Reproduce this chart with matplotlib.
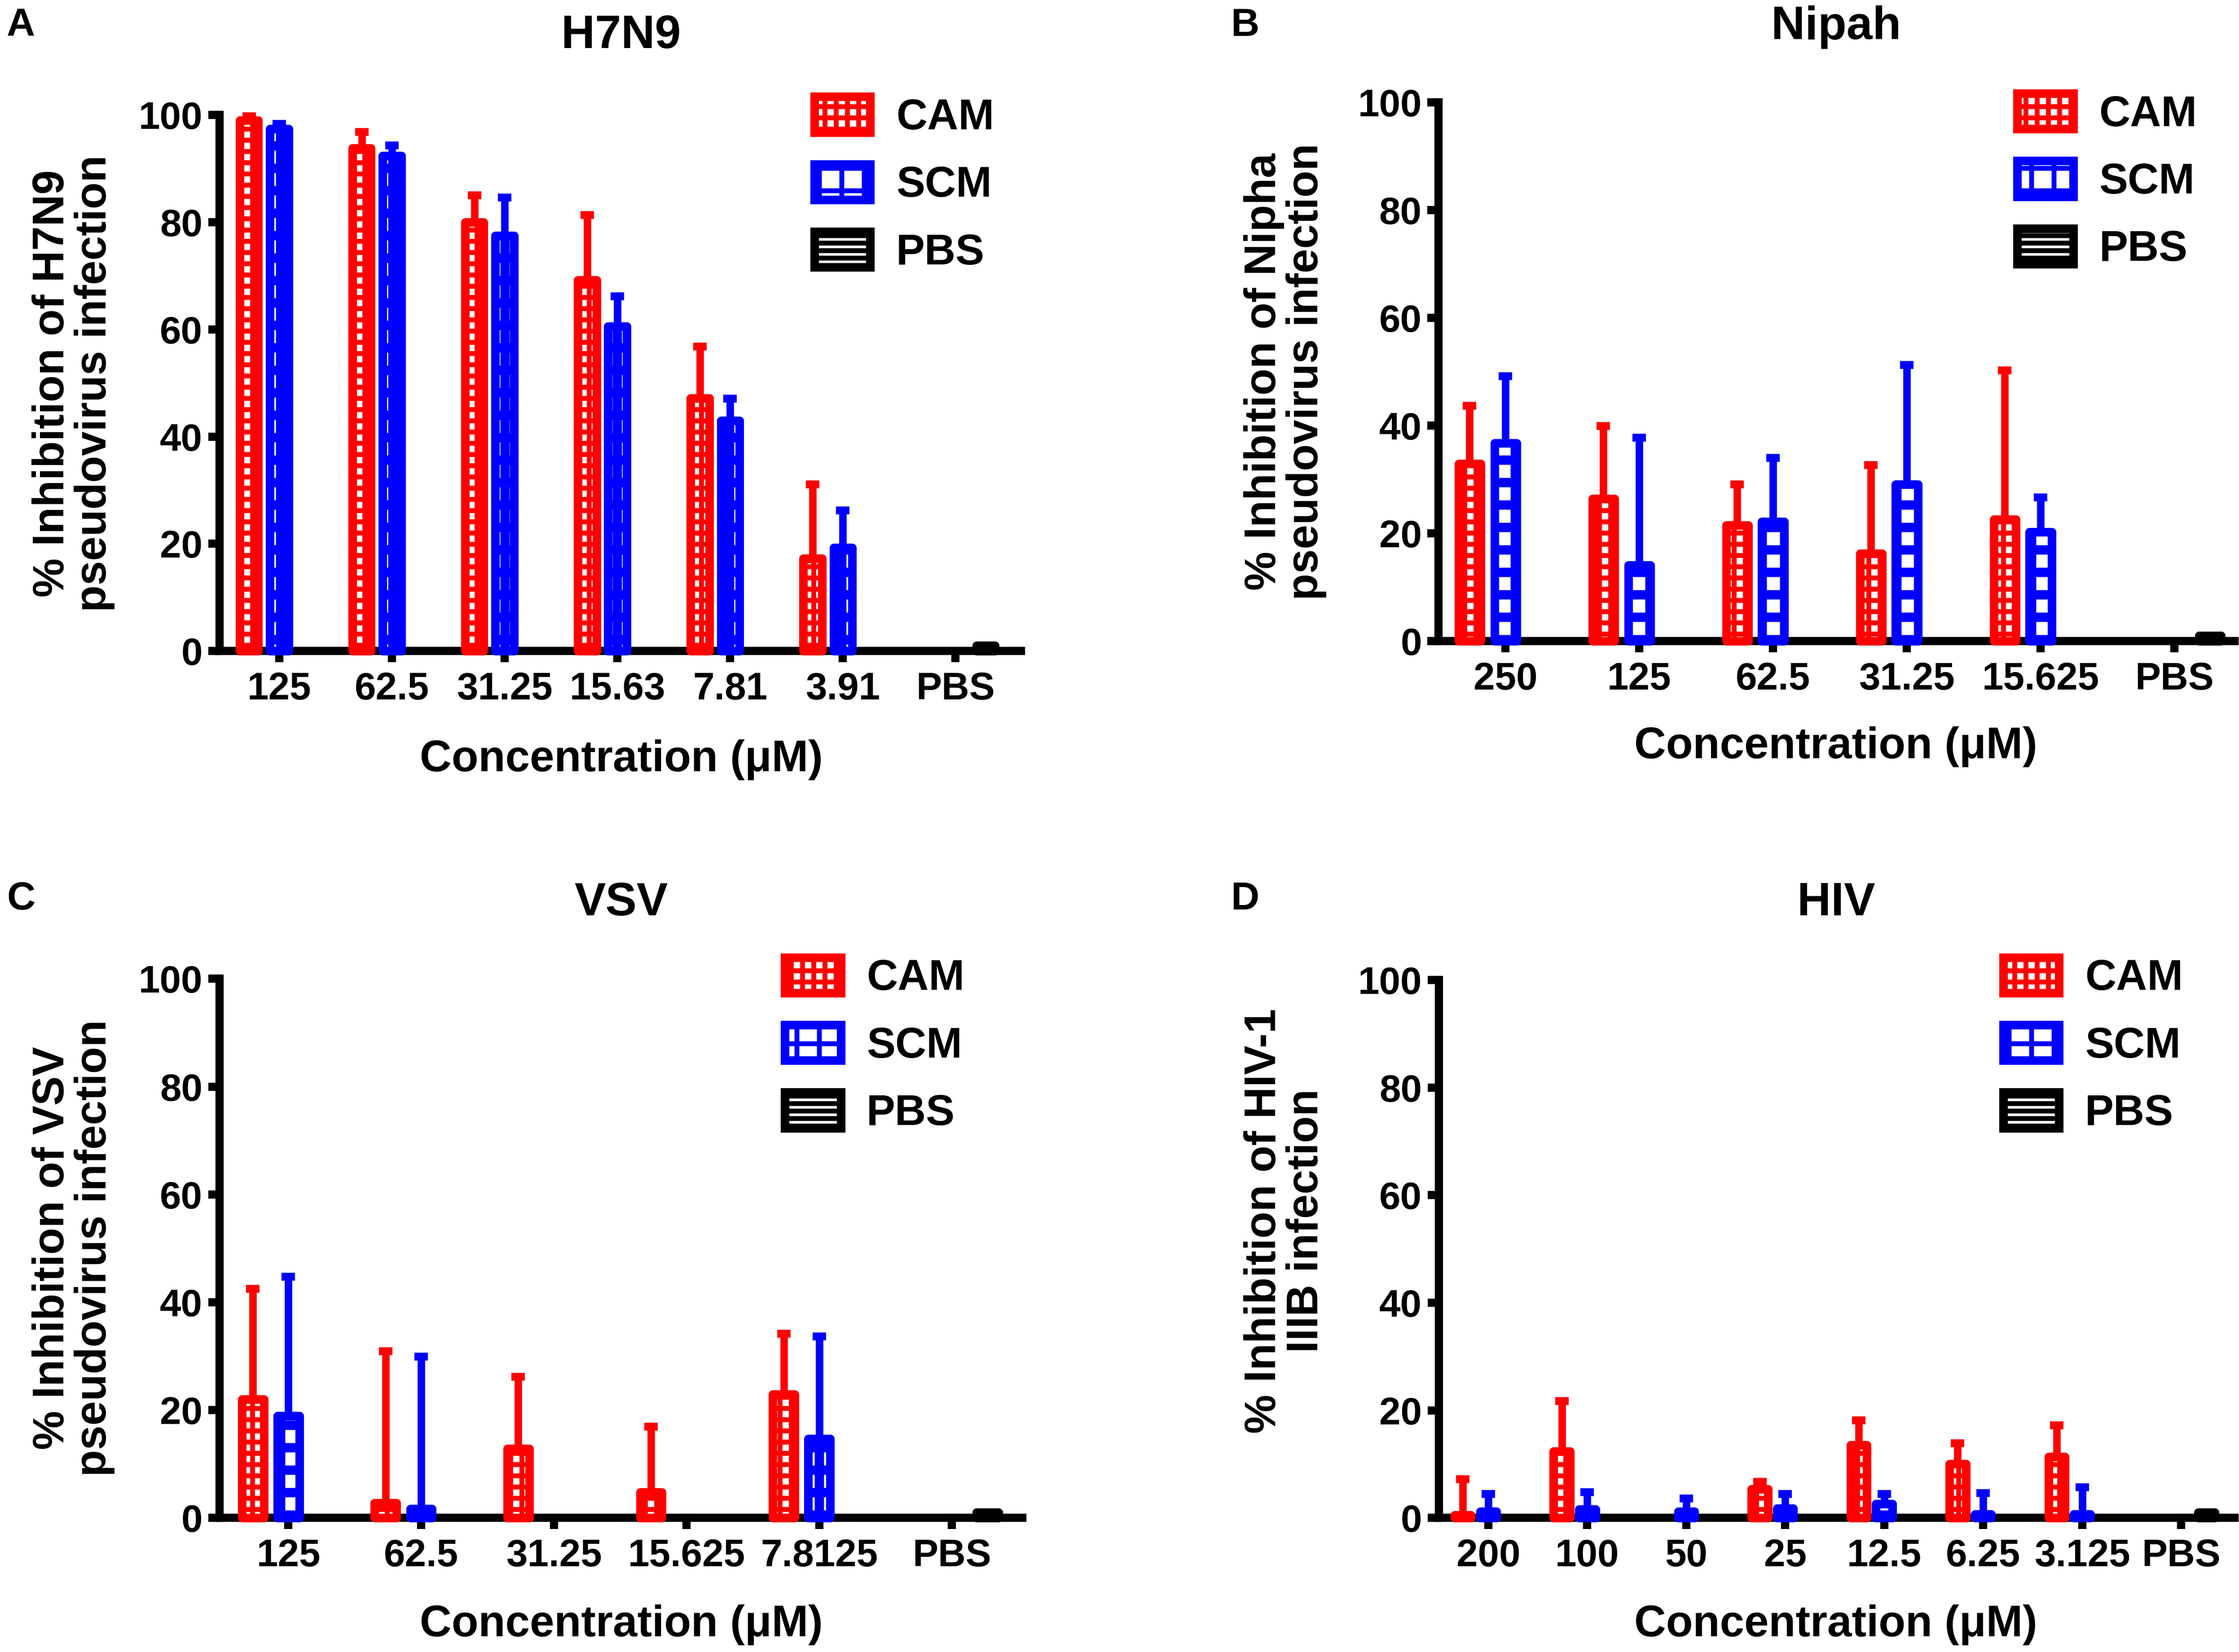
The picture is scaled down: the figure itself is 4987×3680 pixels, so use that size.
import numpy as np
import matplotlib
matplotlib.use('Agg')
import matplotlib.pyplot as plt

plt.rcParams['font.family'] = ['Liberation Sans', 'DejaVu Sans']
plt.rcParams['font.weight'] = 'bold'
plt.rcParams['hatch.linewidth'] = 2.6

series = ['CAM', 'SCM', 'PBS']
xlabel_text = 'Concentration (\u03bcM)'

# ---------------- Panel A: H7N9 ----------------
a_title = 'H7N9'
a_ylabel = '% Inhibition of H7N9\npseudovirus infection'
a_cats = ['125', '62.5', '31.25', '15.63', '7.81', '3.91', 'PBS']
a_cam = [99.0, 93.8, 80.0, 69.2, 47.2, 17.3, 0]
a_cam_err = [0.8, 3.0, 5.0, 12.1, 9.6, 13.8, 0]
a_scm = [97.4, 92.4, 77.5, 60.6, 43.0, 19.3, 0]
a_scm_err = [0.9, 1.9, 7.1, 5.6, 4.1, 6.9, 0]
a_pbs = [0, 0, 0, 0, 0, 0, 1.0]

# ---------------- Panel B: Nipah ----------------
b_title = 'Nipah'
b_ylabel = '% Inhibition of Nipha\npseudovirus infection'
b_cats = ['250', '125', '62.5', '31.25', '15.625', 'PBS']
b_cam = [32.9, 26.4, 21.5, 16.3, 22.6, 0]
b_cam_err = [10.8, 13.5, 7.6, 16.4, 27.7, 0]
b_scm = [36.8, 14.1, 22.2, 29.1, 20.3, 0]
b_scm_err = [12.4, 23.7, 11.8, 22.2, 6.4, 0]
b_pbs = [0, 0, 0, 0, 0, 1.0]

# ---------------- Panel C: VSV ----------------
c_title = 'VSV'
c_ylabel = '% Inhibition of VSV\npseudovirus infection'
c_cats = ['125', '62.5', '31.25', '15.625', '7.8125', 'PBS']
c_cam = [22.0, 2.8, 12.8, 4.8, 22.9, 0]
c_cam_err = [20.5, 28.1, 13.4, 12.1, 11.3, 0]
c_scm = [18.9, 1.7, 0, 0, 14.7, 0]
c_scm_err = [25.8, 28.2, 0, 0, 19.0, 0]
c_pbs = [0, 0, 0, 0, 0, 1.0]

# ---------------- Panel D: HIV ----------------
d_title = 'HIV'
d_ylabel = '% Inhibition of HIV-1\nIIIB infection'
d_cats = ['200', '100', '50', '25', '12.5', '6.25', '3.125', 'PBS']
d_cam = [0.5, 12.4, 0, 5.4, 13.5, 10.0, 11.4, 0]
d_cam_err = [6.7, 9.3, 0, 1.3, 4.6, 3.9, 5.8, 0]
d_scm = [1.2, 1.6, 1.2, 1.8, 2.6, 0.7, 0.7, 0]
d_scm_err = [3.2, 3.2, 2.4, 2.6, 1.8, 3.9, 5.0, 0]
d_pbs = [0, 0, 0, 0, 0, 0, 0, 1.0]

yticks = [0, 20, 40, 60, 80, 100]

RED = '#ff0000'
BLUE = '#0000ff'
BLACK = '#000000'

fig = plt.figure(figsize=(4987 / 300, 3680 / 300), dpi=300)

EDGE_LW = 4.6
AX_LW = 4.4
BAR_W = 0.165
OFF = 0.268


def set_hlw(patches, lw):
    for p in patches:
        if hasattr(p, 'set_hatch_linewidth'):
            p.set_hatch_linewidth(lw)


def draw_panel(rect, cats, cam, cam_err, scm, scm_err, pbs, xlim, title,
               ylabel, letter, title_xy, letter_xy, ylabel_xy, xlabel_xy,
               leg_xy, off=OFF):
    ax = fig.add_axes(rect)
    x = np.arange(len(cats))
    cam = np.array(cam, float)
    scm = np.array(scm, float)
    pbs = np.array(pbs, float)
    cam_err = np.array(cam_err, float)
    scm_err = np.array(scm_err, float)
    groups = [(cam, cam_err, RED, '++', 2.6, -off),
              (scm, scm_err, BLUE, '+', 5.0, 0.0),
              (pbs, np.zeros_like(pbs), BLACK, '---', 2.0, off)]
    handles = []
    for vals, errs, col, hatch, hlw, dx in groups:
        m = vals > 0
        bars = ax.bar(x[m] + dx, vals[m], BAR_W, facecolor='white',
                      edgecolor=col, hatch=hatch, linewidth=EDGE_LW,
                      joinstyle='round', zorder=4, clip_on=False)
        set_hlw(bars.patches, hlw)
        handles.append(bars)
        me = m & (errs > 0)
        ax.errorbar(x[me] + dx, vals[me],
                    yerr=[np.zeros(me.sum()), errs[me]], fmt='none',
                    ecolor=col, elinewidth=4.0, capsize=3.6, capthick=4.2,
                    zorder=3, clip_on=False)
    ax.set_xlim(*xlim)
    ax.set_ylim(0, 100)
    ax.set_xticks(x)
    ax.set_xticklabels(cats)
    ax.set_yticks(yticks)
    for s in ['top', 'right']:
        ax.spines[s].set_visible(False)
    for s in ['left', 'bottom']:
        ax.spines[s].set_linewidth(AX_LW)
        ax.spines[s].set_capstyle('projecting')
    ax.tick_params(axis='both', direction='out', length=6, width=AX_LW,
                   labelsize=20.5, colors='black')
    ax.tick_params(axis='x', pad=5)
    ax.tick_params(axis='y', pad=3)
    for lab in ax.get_xticklabels() + ax.get_yticklabels():
        lab.set_fontweight('bold')
    ax.legend(handles=handles, labels=series, loc='upper left',
              bbox_to_anchor=leg_xy, bbox_transform=fig.transFigure,
              frameon=False, borderpad=0, borderaxespad=0,
              handlelength=1.3, handleheight=0.9, handletextpad=0.6,
              labelspacing=0.6, prop={'size': 23, 'weight': 'bold'})
    fig.text(title_xy[0], title_xy[1], title, ha='center', va='center',
             fontsize=25, fontweight='bold')
    fig.text(letter_xy[0], letter_xy[1], letter, ha='left', va='center',
             fontsize=21, fontweight='bold')
    fig.text(ylabel_xy[0], ylabel_xy[1], ylabel, ha='center', va='center',
             rotation=90, multialignment='center', linespacing=1.05,
             fontsize=23.5, fontweight='bold')
    fig.text(xlabel_xy[0], xlabel_xy[1], xlabel_text, ha='center',
             va='center', fontsize=23.5, fontweight='bold')
    return ax


draw_panel([0.098, 0.6059, 0.358, 0.3245], a_cats, a_cam, a_cam_err, a_scm,
           a_scm_err, a_pbs, (-0.53, 6.58), a_title, a_ylabel, 'A',
           (0.2774, 0.978), (0.003, 0.9844), (0.0328, 0.768),
           (0.2774, 0.5402), (0.3637, 0.9415))
draw_panel([0.6425, 0.6119, 0.3555, 0.3261], b_cats, b_cam, b_cam_err, b_scm,
           b_scm_err, b_pbs, (-0.5, 5.45), b_title, b_ylabel, 'B',
           (0.820, 0.9835), (0.5497, 0.9844), (0.574, 0.775),
           (0.820, 0.548), (0.901, 0.9435))
draw_panel([0.098, 0.0812, 0.3586, 0.3263], c_cats, c_cam, c_cam_err, c_scm,
           c_scm_err, c_pbs, (-0.52, 5.53), c_title, c_ylabel, 'C',
           (0.2774, 0.4530), (0.003, 0.4555), (0.0328, 0.2446),
           (0.2774, 0.0164), (0.3505, 0.4205))
draw_panel([0.6426, 0.0812, 0.3554, 0.3255], d_cats, d_cam, d_cam_err, d_scm,
           d_scm_err, d_pbs, (-0.5, 7.54), d_title, d_ylabel, 'D',
           (0.820, 0.4530), (0.5497, 0.4555), (0.574, 0.261),
           (0.820, 0.0164), (0.8947, 0.4205), off=0.257)

fig.savefig('out.png', dpi=300, facecolor='white')
